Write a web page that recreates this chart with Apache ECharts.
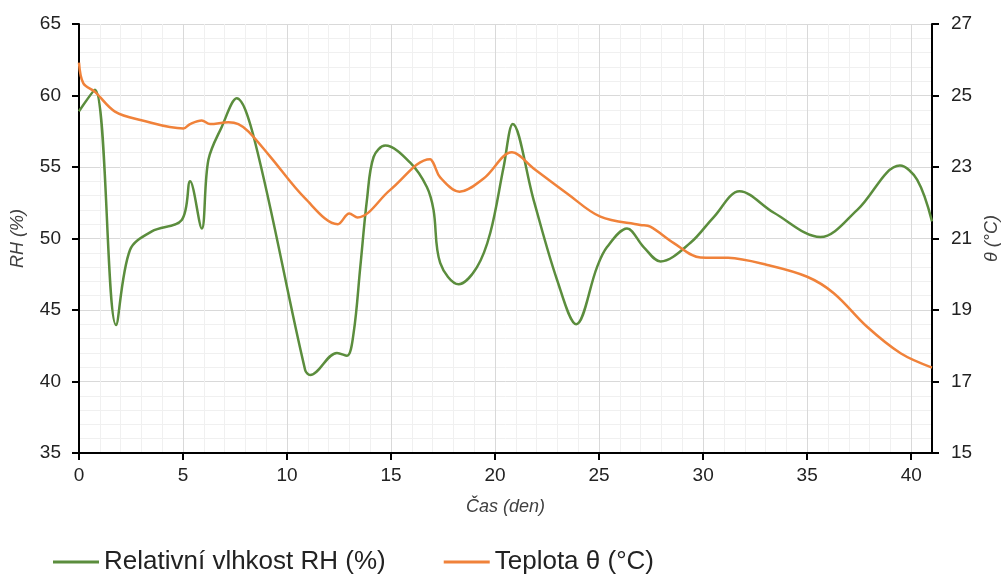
<!DOCTYPE html>
<html>
<head>
<meta charset="utf-8">
<script src="https://cdn.jsdelivr.net/npm/echarts@6/dist/echarts.min.js"></script>
<style>
  html, body { margin: 0; padding: 0; background: #fff; }
  #chart { width: 1003px; height: 576px; }
</style>
</head>
<body>
<div id="chart"></div>
<script>
// Time in days
const rhDays = [0, 0.77, 1.78, 2.45, 3.5, 4.94, 5.34, 5.9, 6.22, 6.86, 7.58, 8.47, 10.87, 11.11, 12.4, 12.88, 13.2, 13.52, 13.84, 14.16, 14.72, 15.92, 16.72, 17.04, 17.36, 18.25, 19.13, 19.77, 20.41, 20.85, 21.85, 22.98, 23.9, 24.9, 25.38, 26.34, 27.14, 27.95, 29.39, 30.51, 31.75, 33.4, 35.64, 37.41, 39.46, 40.29, 41];
// Relative humidity RH (%)
const rhValues = [58.9, 60.4, 43.95, 49.2, 50.5, 51.3, 54.0, 50.7, 55.5, 57.8, 59.8, 56.7, 40.8, 40.45, 42.0, 41.8, 43.4, 48.0, 52.7, 55.7, 56.5, 55.3, 53.6, 52.0, 48.3, 46.8, 48.0, 50.4, 55.0, 58.0, 52.7, 47.1, 44.0, 48.0, 49.4, 50.7, 49.4, 48.4, 49.7, 51.5, 53.3, 51.8, 50.1, 52.0, 55.1, 54.1, 51.2];

const tDays = [0, 0.21, 0.77, 1.73, 3.0, 5.02, 5.34, 5.9, 6.3, 7.18, 7.66, 8.15, 9.19, 10.87, 12.44, 12.99, 13.39, 14.96, 16.88, 17.04, 17.36, 18.29, 19.45, 20.81, 21.85, 23.46, 25.06, 26.98, 27.46, 28.59, 29.87, 31.2, 33.08, 35.0, 36.28, 37.88, 39.49, 41];
// Temperature θ (°C)
const tValues = [25.92, 25.34, 25.1, 24.55, 24.31, 24.08, 24.2, 24.3, 24.2, 24.25, 24.2, 23.99, 23.29, 22.12, 21.4, 21.7, 21.59, 22.36, 23.22, 23.1, 22.71, 22.31, 22.68, 23.41, 22.96, 22.26, 21.61, 21.38, 21.33, 20.87, 20.47, 20.46, 20.26, 19.93, 19.47, 18.53, 17.79, 17.39];

const rhName = 'Relativní vlhkost RH (%)';
const tName = 'Teplota θ (°C)';

const pair = (xs, ys) => xs.map((x, i) => [x, ys[i]]);

const FONT = 'Liberation Sans, Arial, sans-serif';
const labelStyle = { color: '#222', fontSize: 19, fontFamily: FONT };
const nameStyle = { color: '#404040', fontSize: 18, fontStyle: 'italic', fontFamily: FONT };
const axisLineStyle = { show: true, lineStyle: { color: '#000', width: 2 } };
const tickStyle = { show: true, length: 7, lineStyle: { color: '#000', width: 2 } };
const majorGrid = { show: true, lineStyle: { color: '#d9d9d9', width: 1 } };
const minorGrid = { show: true, lineStyle: { color: '#f0f0f0', width: 1 } };

const chart = echarts.init(document.getElementById('chart'), null, { renderer: 'canvas' });
chart.setOption({
  animation: false,
  backgroundColor: '#fff',
  grid: { left: 79, right: 71, top: 24, bottom: 123, containLabel: false, outerBoundsMode: 'none' },
  legend: {
    top: 544,
    left: 48,
    itemGap: 58,
    itemWidth: 46,
    itemHeight: 3,
    icon: 'rect',
    textStyle: { color: '#222', fontSize: 26, fontFamily: FONT },
    data: [rhName, tName]
  },
  xAxis: {
    type: 'value',
    min: 0, max: 41, interval: 5,
    name: 'Čas (den)', nameLocation: 'middle', nameGap: 45,
    nameTextStyle: nameStyle,
    axisLine: axisLineStyle,
    axisTick: tickStyle,
    axisLabel: Object.assign({ margin: 13, showMaxLabel: false }, labelStyle),
    splitLine: majorGrid,
    minorTick: { show: false, splitNumber: 5 },
    minorSplitLine: minorGrid
  },
  yAxis: [
    {
      type: 'value', position: 'left',
      min: 35, max: 65, interval: 5,
      name: 'RH (%)', nameLocation: 'middle', nameGap: 52, nameRotate: 90,
      nameTextStyle: nameStyle,
      axisLine: axisLineStyle,
      axisTick: tickStyle,
      axisLabel: Object.assign({ margin: 18 }, labelStyle),
      splitLine: majorGrid,
      minorTick: { show: false, splitNumber: 5 },
      minorSplitLine: minorGrid
    },
    {
      type: 'value', position: 'right',
      min: 15, max: 27, interval: 2,
      name: 'θ (°C)', nameLocation: 'middle', nameGap: 50, nameRotate: 90,
      nameTextStyle: nameStyle,
      axisLine: axisLineStyle,
      axisTick: tickStyle,
      axisLabel: Object.assign({ margin: 19 }, labelStyle),
      splitLine: { show: false }
    }
  ],
  series: [
    {
      name: rhName, type: 'line', yAxisIndex: 0,
      data: pair(rhDays, rhValues),
      smooth: 0.35, showSymbol: false, symbol: 'none',
      lineStyle: { color: '#5b8d3d', width: 2.5 },
      itemStyle: { color: '#5b8d3d' }
    },
    {
      name: tName, type: 'line', yAxisIndex: 1,
      data: pair(tDays, tValues),
      smooth: 0.35, showSymbol: false, symbol: 'none',
      lineStyle: { color: '#f0823a', width: 2.5 },
      itemStyle: { color: '#f0823a' }
    }
  ]
});
</script>
</body>
</html>
